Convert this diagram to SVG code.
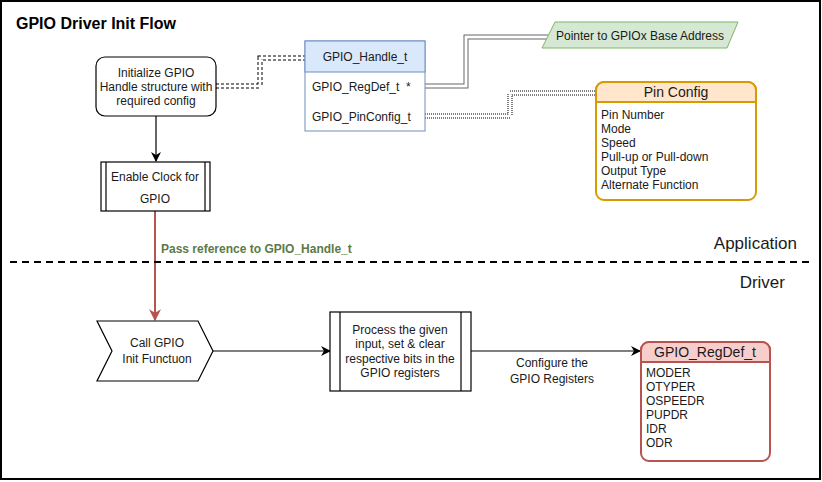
<svg xmlns="http://www.w3.org/2000/svg" width="822" height="482" viewBox="0 0 822 482">
<defs>
<marker id="arr" viewBox="0 0 10 10" refX="9" refY="5" markerWidth="10" markerHeight="10" markerUnits="userSpaceOnUse" orient="auto">
<path d="M0,0 L10,5 L0,10 L3,5 Z" fill="#000"/>
</marker>
<marker id="arrRed" viewBox="0 0 10 10" refX="9" refY="5" markerWidth="12" markerHeight="12" markerUnits="userSpaceOnUse" orient="auto">
<path d="M0,0 L10,5 L0,10 L3,5 Z" fill="#b85450"/>
</marker>
<style>
text{font-family:"Liberation Sans",Arial,sans-serif;font-size:12px;fill:#1a1a1a}
.c{text-anchor:middle}
.box{fill:#fff;stroke:#000;stroke-width:1.2}
.ln{fill:none;stroke:#000;stroke-width:1.2}
.lane{font-size:17px}
</style>
</defs>
<rect x="0" y="0" width="822" height="482" fill="#fff"/>
<rect x="1" y="1" width="819" height="478" fill="none" stroke="#000" stroke-width="2"/>
<text x="16" y="29" style="font-size:16px;font-weight:bold;fill:#000">GPIO Driver Init Flow</text>

<g id="connectors">
<path d="M216,86 H260 V58 H305" fill="none" stroke="#000" stroke-width="5" stroke-dasharray="3 2"/>
<path d="M216,86 H260 V58 H305" fill="none" stroke="#fff" stroke-width="3"/>
<path d="M425,86 H466 V37 H548" fill="none" stroke="#666" stroke-width="5"/>
<path d="M425,86 H466 V37 H548" fill="none" stroke="#fff" stroke-width="3"/>
<path d="M425,116 H510 V93 H596" fill="none" stroke="#000" stroke-width="5" stroke-dasharray="1 1"/>
<path d="M425,116 H510 V93 H596" fill="none" stroke="#fff" stroke-width="3"/>
<path d="M156,116 V161" class="ln" marker-end="url(#arr)"/>
<path d="M155,211 V320" fill="none" stroke="#b85450" stroke-width="2" marker-end="url(#arrRed)"/>
<text x="161" y="253" style="font-weight:bold;fill:#5b7a47">Pass reference to GPIO_Handle_t</text>
<path d="M213,351 H330" class="ln" marker-end="url(#arr)"/>
<path d="M471,351 H640" class="ln" marker-end="url(#arr)"/>
<text class="c" x="552" y="367">Configure the</text>
<text class="c" x="552" y="383">GPIO Registers</text>
</g>

<line x1="10" y1="262" x2="810" y2="262" stroke="#000" stroke-width="2" stroke-dasharray="7 5"/>
<text class="lane" x="797" y="249" text-anchor="end">Application</text>
<text class="lane" x="785" y="288" text-anchor="end">Driver</text>

<g id="init">
<rect class="box" x="96" y="57" width="120" height="59" rx="9"/>
<text class="c" x="156" y="77">Initialize GPIO</text>
<text class="c" x="156" y="91">Handle structure with</text>
<text class="c" x="156" y="105">required config</text>
</g>

<g id="handle">
<rect x="305" y="41" width="120" height="90" fill="#fff" stroke="#6c8ebf" stroke-width="1"/>
<rect x="305" y="41" width="120" height="31" fill="#dae8fc" stroke="#6c8ebf" stroke-width="1"/>
<text class="c" x="365" y="61">GPIO_Handle_t</text>
<text x="312" y="91">GPIO_RegDef_t&#160;&#160;*</text>
<text x="312" y="121">GPIO_PinConfig_t</text>
</g>

<g id="pointer">
<path d="M555,22 H738 L727,48 H542 Z" fill="#d5e8d4" stroke="#82b366" stroke-width="1"/>
<text class="c" x="640" y="40">Pointer to GPIOx Base Address</text>
</g>

<g id="pinconfig">
<rect x="596" y="82" width="160" height="118" rx="8" fill="#fff" stroke="#d79b00" stroke-width="2"/>
<path d="M596,102 V90 A8,8 0 0 1 604,82 H748 A8,8 0 0 1 756,90 V102 Z" fill="#ffe6cc" stroke="#d79b00" stroke-width="2"/>
<text class="c" x="676" y="97" style="font-size:14px">Pin Config</text>
<text x="601" y="119">Pin Number</text>
<text x="601" y="133">Mode</text>
<text x="601" y="147">Speed</text>
<text x="601" y="161">Pull-up or Pull-down</text>
<text x="601" y="175">Output Type</text>
<text x="601" y="189">Alternate Function</text>
</g>

<g id="clock">
<rect class="box" x="101" y="162" width="109" height="49"/>
<line x1="106" y1="162" x2="106" y2="211" class="ln"/>
<line x1="205" y1="162" x2="205" y2="211" class="ln"/>
<text class="c" x="155" y="181">Enable Clock for</text>
<text class="c" x="155" y="203">GPIO</text>
</g>

<g id="callinit">
<path d="M97,321 H198 L213,351 L198,381 H97 L112,351 Z" class="box"/>
<text class="c" x="157" y="347">Call GPIO</text>
<text class="c" x="157" y="363">Init Functuon</text>
</g>

<g id="process">
<rect class="box" x="330" y="312" width="141" height="79"/>
<line x1="340" y1="312" x2="340" y2="391" class="ln"/>
<line x1="461" y1="312" x2="461" y2="391" class="ln"/>
<text class="c" x="400" y="334">Process the given</text>
<text class="c" x="400" y="348">input, set &amp; clear</text>
<text class="c" x="400" y="363">respective bits in the</text>
<text class="c" x="400" y="377">GPIO registers</text>
</g>

<g id="regdef">
<rect x="641" y="342" width="129" height="119" rx="8" fill="#fff" stroke="#b85450" stroke-width="2"/>
<path d="M641,362 V350 A8,8 0 0 1 649,342 H762 A8,8 0 0 1 770,350 V362 Z" fill="#f8cecc" stroke="#b85450" stroke-width="2"/>
<text class="c" x="705" y="357" style="font-size:14px">GPIO_RegDef_t</text>
<text x="646" y="377">MODER</text>
<text x="646" y="391">OTYPER</text>
<text x="646" y="405">OSPEEDR</text>
<text x="646" y="419">PUPDR</text>
<text x="646" y="433">IDR</text>
<text x="646" y="447">ODR</text>
</g>
</svg>
